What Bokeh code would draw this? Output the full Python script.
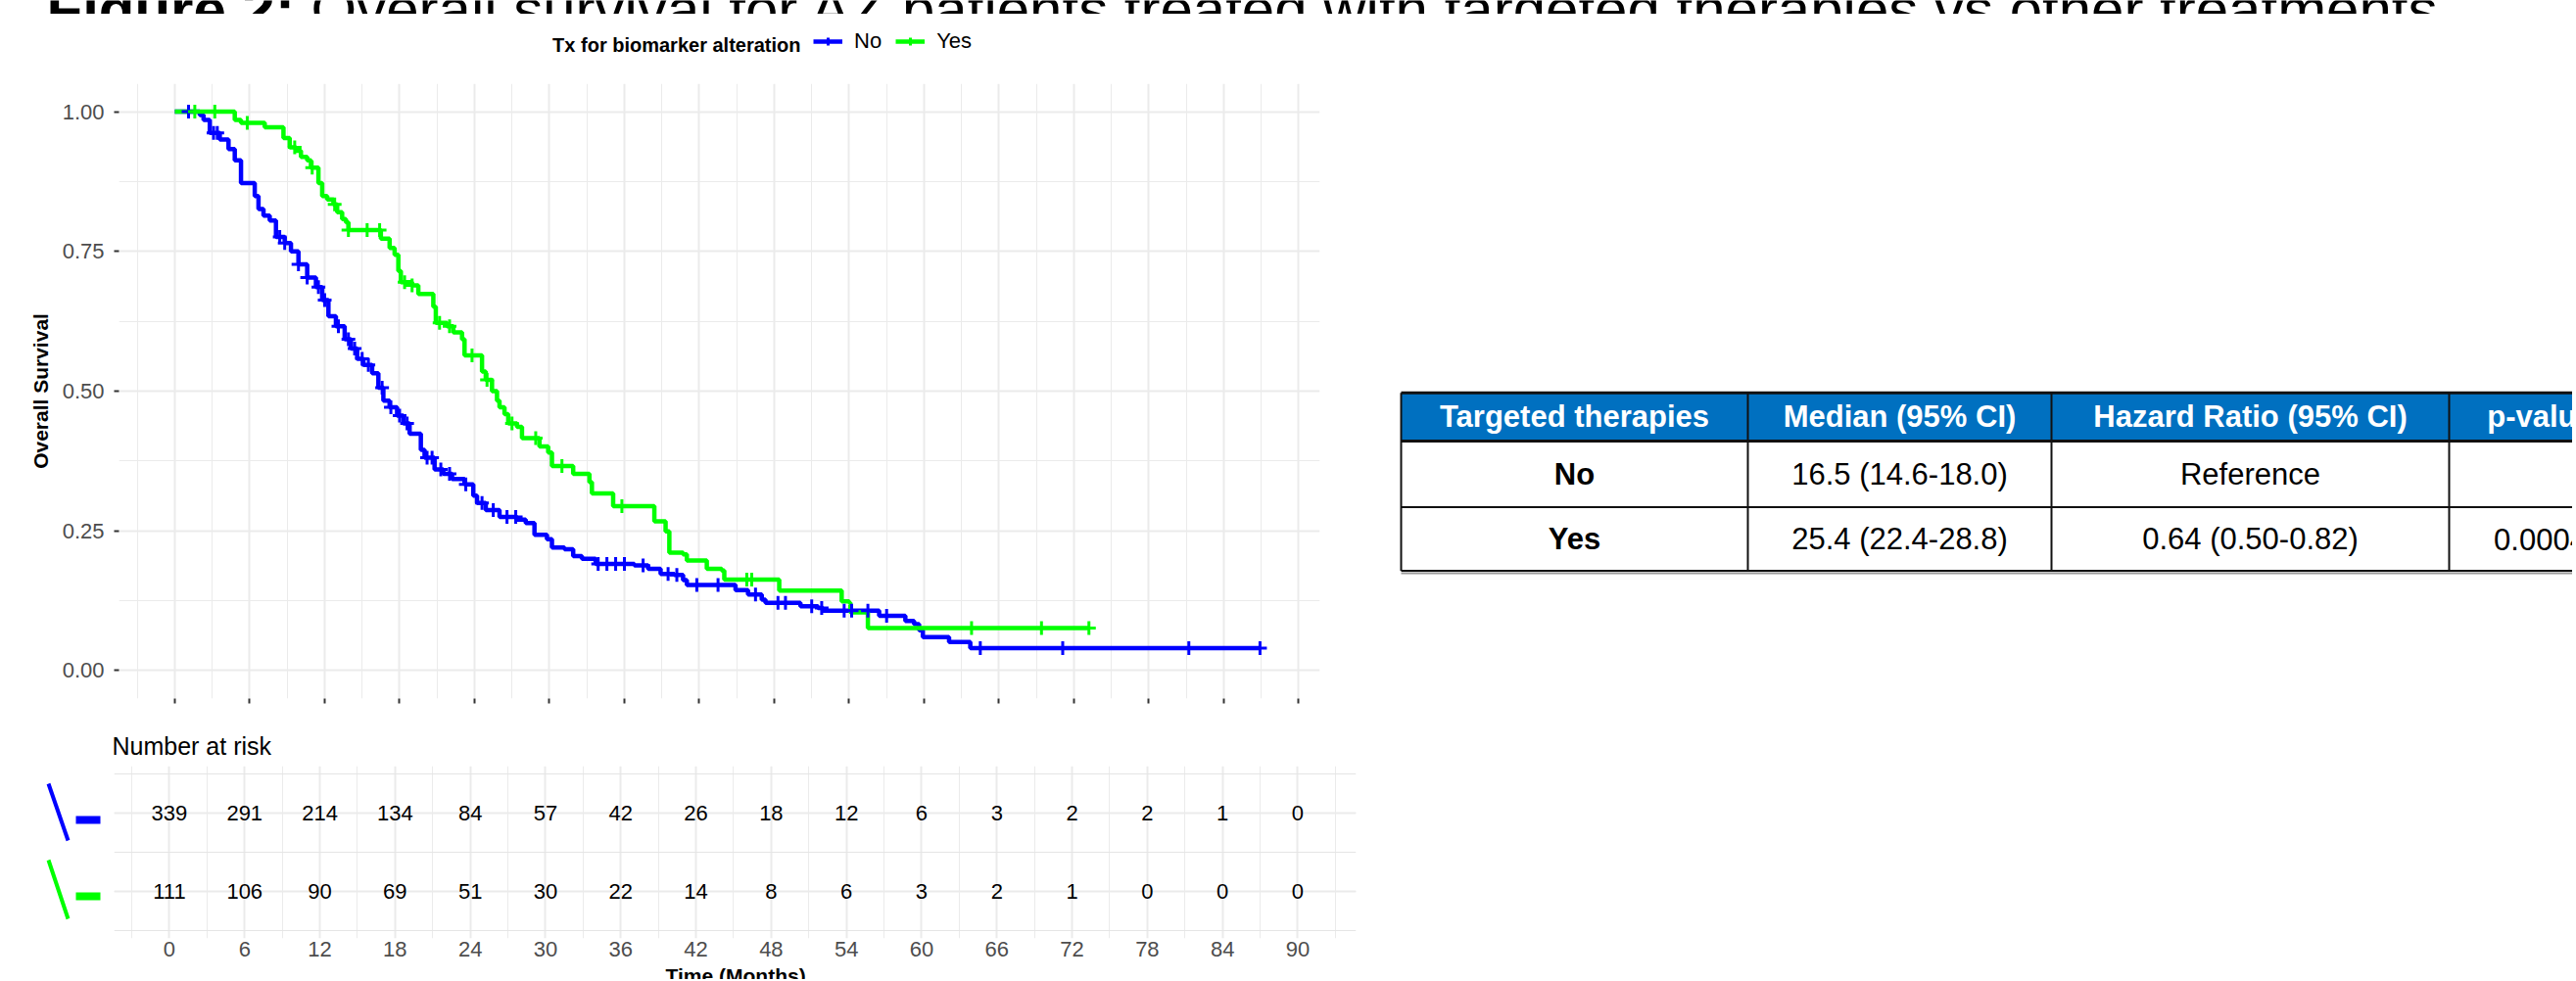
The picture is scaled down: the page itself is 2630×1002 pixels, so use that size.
import numpy as np
from bokeh.plotting import figure
from bokeh.models import Range1d, FixedTicker, Legend, LegendItem, Grid
from bokeh.layouts import column, row
from bokeh.embed import file_html
from bokeh.resources import INLINE
from bokeh.core.properties import value

FONT = "Liberation Sans"
BLUE = "#0000FF"
GREEN = "#00FF00"
GRID_C = "#EBEBEB"
TICK_GREY = "#4D4D4D"

# ---------------- data ----------------
title_bold = "Figure 2:"
title_rest = "Overall survival for AZ patients treated with targeted therapies vs other treatments"
legend_title = "Tx for biomarker alteration"
group_labels = ["No", "Yes"]

# Kaplan-Meier steps, group "No"
no_times = [0, 2.0, 2.3, 2.8, 3.6, 4.3, 4.8, 5.3, 6.4, 6.7, 7.1, 7.6, 8.1, 8.8, 9.3, 9.9,
            10.6, 11.3, 11.8, 12.3, 12.9, 13.6, 14.1, 14.6, 15.1, 15.8, 16.3, 16.7, 17.2,
            17.8, 18.3, 18.8, 19.7, 20.0, 20.8, 21.5, 22.2, 23.2, 23.9, 24.2, 24.9, 26.0,
            27.4, 28.1, 28.8, 29.8, 30.2, 31.2, 31.9, 32.6, 33.7, 36.8, 37.9, 38.9, 40.0,
            40.7, 41.0, 44.9, 45.9, 47.0, 47.3, 50.1, 51.5, 51.9, 56.4, 58.5, 59.2, 59.6,
            59.9, 62.0, 63.7]
no_surv = [1.0, 0.994, 0.985, 0.962, 0.95, 0.933, 0.913, 0.872, 0.849, 0.826, 0.814, 0.805,
           0.776, 0.765, 0.75, 0.727, 0.703, 0.686, 0.663, 0.634, 0.616, 0.593, 0.576, 0.558,
           0.547, 0.532, 0.506, 0.483, 0.471, 0.456, 0.442, 0.424, 0.395, 0.381, 0.360, 0.352,
           0.343, 0.333, 0.313, 0.300, 0.287, 0.275, 0.270, 0.264, 0.243, 0.235, 0.220, 0.217,
           0.205, 0.200, 0.191, 0.188, 0.182, 0.173, 0.171, 0.162, 0.153, 0.144, 0.136, 0.127,
           0.121, 0.115, 0.112, 0.107, 0.098, 0.089, 0.083, 0.072, 0.060, 0.051, 0.040]
no_last = 86.9
no_censor = [1.1, 3.1, 3.4, 8.4, 8.8, 9.9, 10.6, 11.5, 12.0, 13.1, 13.9, 14.4, 15.0, 15.5,
             16.6, 17.3, 18.0, 18.6, 20.2, 20.6, 21.3, 22.0, 23.3, 24.6, 25.5, 26.6, 27.3,
             33.9, 34.6, 35.3, 36.0, 37.5, 39.5, 40.2, 41.8, 43.5, 46.5, 48.3, 48.9, 51.0,
             51.8, 53.6, 54.2, 55.5, 57.0, 64.5, 71.1, 81.2, 86.9]

# Kaplan-Meier steps, group "Yes"
yes_times = [0, 4.8, 5.3, 7.2, 8.7, 9.2, 9.7, 10.1, 10.6, 10.9, 11.5, 11.8, 12.2, 12.7, 13.0,
             13.4, 13.7, 13.9, 16.5, 17.2, 17.6, 17.9, 18.1, 19.0, 19.5, 20.7, 20.9, 21.8,
             22.3, 23.0, 23.2, 24.6, 24.9, 25.4, 25.8, 26.0, 26.4, 26.7, 27.4, 27.8, 29.2,
             29.9, 30.2, 31.9, 33.2, 33.4, 35.1, 38.4, 39.3, 39.6, 40.7, 41.0, 42.6, 43.8,
             44.0, 48.4, 53.4, 54.0, 54.1, 55.5]
yes_surv = [1.0, 0.985, 0.98, 0.972, 0.953, 0.936, 0.930, 0.919, 0.913, 0.900, 0.872, 0.849,
            0.843, 0.834, 0.820, 0.808, 0.802, 0.788, 0.773, 0.756, 0.744, 0.715, 0.695, 0.689,
            0.674, 0.651, 0.622, 0.616, 0.605, 0.593, 0.564, 0.535, 0.520, 0.500, 0.483, 0.471,
            0.459, 0.442, 0.436, 0.416, 0.401, 0.390, 0.366, 0.352, 0.337, 0.317, 0.294, 0.267,
            0.249, 0.211, 0.208, 0.197, 0.182, 0.179, 0.163, 0.143, 0.124, 0.121, 0.104, 0.076]
yes_last = 73.2
yes_censor = [1.6, 3.2, 5.8, 9.6, 11.0, 12.8, 13.9, 15.4, 16.4, 18.4, 19.0, 21.2, 22.0, 23.8,
              25.0, 27.0, 28.9, 31.0, 35.8, 45.8, 46.2, 63.8, 69.4, 73.2]

# Axes / risk table
y_ticks = [0.0, 0.25, 0.5, 0.75, 1.0]
y_tick_labels = ["0.00", "0.25", "0.50", "0.75", "1.00"]
risk_times = [0, 6, 12, 18, 24, 30, 36, 42, 48, 54, 60, 66, 72, 78, 84, 90]
risk_no = [339, 291, 214, 134, 84, 57, 42, 26, 18, 12, 6, 3, 2, 2, 1, 0]
risk_yes = [111, 106, 90, 69, 51, 30, 22, 14, 8, 6, 3, 2, 1, 0, 0, 0]
x_axis_title = "Time (Months)"
y_axis_title = "Overall Survival"
risk_title = "Number at risk"

# Summary table
table_header = ["Targeted therapies", "Median (95% CI)", "Hazard Ratio (95% CI)", "p-value"]
table_rows = [["No", "16.5 (14.6-18.0)", "Reference", ""],
              ["Yes", "25.4 (22.4-28.8)", "0.64 (0.50-0.82)", "0.0004"]]


def step_xy(times, surv, last):
    return list(times) + [last], list(surv) + [surv[-1]]


def surv_at(times, surv, t):
    idx = np.searchsorted(np.array(times), np.array(t), side="right") - 1
    return list(np.array(surv)[idx])


def base_fig(**kw):
    f = figure(output_backend="svg", toolbar_location=None, **kw)
    try:
        f.frame_align = False
    except Exception:
        pass
    return f


def strip(width, height, x0, x1, y_top, y_bot):
    f = base_fig(width=width, height=height, x_range=Range1d(x0, x1),
                 y_range=Range1d(y_bot, y_top), min_border=0,
                 x_axis_location=None, y_axis_location=None)
    f.grid.visible = False
    f.outline_line_color = None
    return f


LEFT_W = 1408
TOTAL_W = 2626

# ---------------- title strip (top of the title lies outside the image) ----------------
tf = strip(TOTAL_W, 14, 0, TOTAL_W, 0, 14)
tf.text(x=[47], y=[9], text=[title_bold], text_font=value(FONT), text_font_style="bold",
        text_font_size="60px", text_baseline="alphabetic", text_align="left", text_color="black")
tf.text(x=[317], y=[9], text=[title_rest], text_font=value(FONT), text_font_size="60px",
        text_baseline="alphabetic", text_align="left", text_color="black")

# ---------------- legend strip ----------------
lf = strip(LEFT_W, 71, 0, LEFT_W, 14, 85)
lf.text(x=[817], y=[45], text=[legend_title], text_font=value(FONT), text_font_style="bold",
        text_font_size="20px", text_align="right", text_baseline="middle", text_color="black")
OFF = [-1000, -999]
k_no = lf.line(OFF, [-1000, -1000], line_color=BLUE, line_width=4.5)
k_no_c = lf.scatter(OFF[:1], [-1000], marker="cross", size=14, line_color=BLUE, line_width=3)
k_yes = lf.line(OFF, [-1000, -1000], line_color=GREEN, line_width=4.5)
k_yes_c = lf.scatter(OFF[:1], [-1000], marker="cross", size=14, line_color=GREEN, line_width=3)
legend = Legend(items=[LegendItem(label=group_labels[0], renderers=[k_no, k_no_c]),
                       LegendItem(label=group_labels[1], renderers=[k_yes, k_yes_c])],
                orientation="horizontal", location=(830, 30), padding=0, margin=0,
                spacing=14, glyph_width=30, glyph_height=20, label_height=20, label_standoff=12,
                border_line_color=None, background_fill_alpha=0,
                label_text_font=FONT, label_text_font_size="22px", label_text_color="black",
                label_text_baseline="middle")
lf.add_layout(legend, "center")

# ---------------- KM plot ----------------
km = base_fig(width=LEFT_W, height=660, x_range=Range1d(-4.47, 91.69), y_range=Range1d(-0.05, 1.05),
              min_border_left=121, min_border_right=LEFT_W - 1347, min_border_top=0,
              min_border_bottom=32)
km.outline_line_color = None

minor_x = [-3 + 6 * i for i in range(17)]
km.xaxis.ticker = FixedTicker(ticks=risk_times, minor_ticks=minor_x)
km.yaxis.ticker = FixedTicker(ticks=y_ticks, minor_ticks=[0.125, 0.375, 0.625, 0.875])
km.xaxis.major_label_overrides = {t: "" for t in risk_times}
km.yaxis.major_label_overrides = {t: l for t, l in zip(y_ticks, y_tick_labels)}

for ax in (km.xaxis[0], km.yaxis[0]):
    ax.axis_line_color = None
    ax.major_tick_in = 0
    ax.major_tick_out = 5
    ax.minor_tick_in = 0
    ax.minor_tick_out = 0
    ax.major_tick_line_color = "#333333"
    ax.major_tick_line_width = 2
    ax.major_label_text_font = FONT
    ax.major_label_text_color = TICK_GREY
km.yaxis.major_label_text_font_size = "22px"
km.xaxis.major_label_text_font_size = "1px"
km.xaxis.major_label_standoff = 0
km.yaxis.major_label_standoff = 10
km.yaxis.axis_label = y_axis_title
km.yaxis.axis_label_text_font = FONT
km.yaxis.axis_label_text_font_style = "bold"
km.yaxis.axis_label_text_font_size = "21px"
km.yaxis.axis_label_text_color = "black"
km.yaxis.axis_label_standoff = 8

for g in (km.xgrid[0], km.ygrid[0]):
    g.grid_line_color = GRID_C
    g.grid_line_width = 2
    g.minor_grid_line_color = GRID_C
    g.minor_grid_line_width = 1

nx, ny = step_xy(no_times, no_surv, no_last)
yx, yy = step_xy(yes_times, yes_surv, yes_last)
km.step(nx, ny, mode="after", line_color=BLUE, line_width=4.5)
km.step(yx, yy, mode="after", line_color=GREEN, line_width=4.5)
km.scatter(no_censor, surv_at(no_times, no_surv, no_censor), marker="cross", size=14,
           line_color=BLUE, line_width=3)
km.scatter(yes_censor, surv_at(yes_times, yes_surv, yes_censor), marker="cross", size=14,
           line_color=GREEN, line_width=3)

# ---------------- risk table ----------------
rt = strip(LEFT_W, 37, 0, LEFT_W, 745, 782)
rt.text(x=[114], y=[761], text=[risk_title], text_font=value(FONT), text_font_size="25px",
        text_align="left", text_baseline="middle", text_color="black")

RISK_Y = Range1d(0.4, 2.6)
sym = base_fig(width=116, height=205, x_range=Range1d(0, 116), y_range=RISK_Y,
               min_border_left=0, min_border_right=0, min_border_top=0, min_border_bottom=29,
               x_axis_location=None, y_axis_location=None)
sym.grid.visible = False
sym.outline_line_color = None
sym.segment(x0=[49, 49], y0=[2.375, 1.4], x1=[69, 69], y1=[1.65, 0.65],
            line_color=[BLUE, GREEN], line_width=4)
sym.rect(x=[89.5, 89.5], y=[1.9125, 0.9375], width=25, height=0.1,
         fill_color=[BLUE, GREEN], line_color=None)

risk = base_fig(width=LEFT_W - 116, height=205, x_range=Range1d(-4.41, 94.65), y_range=RISK_Y,
                min_border_left=0, min_border_right=LEFT_W - 1384, min_border_top=0,
                min_border_bottom=29, y_axis_location=None)
risk.outline_line_color = None
risk.xaxis.ticker = FixedTicker(ticks=risk_times, minor_ticks=minor_x)
rx = risk.xaxis[0]
rx.axis_line_color = None
rx.major_tick_in = 0
rx.major_tick_out = 0
rx.minor_tick_in = 0
rx.minor_tick_out = 0
rx.major_label_standoff = 3
rx.major_label_text_font = FONT
rx.major_label_text_font_size = "22px"
rx.major_label_text_color = TICK_GREY
risk.xgrid[0].grid_line_color = GRID_C
risk.xgrid[0].grid_line_width = 2
risk.xgrid[0].minor_grid_line_color = GRID_C
risk.xgrid[0].minor_grid_line_width = 1
risk.add_layout(Grid(dimension=1, ticker=FixedTicker(ticks=[1, 2]), grid_line_color=GRID_C,
                     grid_line_width=2))

risk.text(x=risk_times, y=[2] * len(risk_times), text=[str(v) for v in risk_no],
          text_font=value(FONT), text_font_size="22px", text_align="center",
          text_baseline="middle", text_color="black")
risk.text(x=risk_times, y=[1] * len(risk_times), text=[str(v) for v in risk_yes],
          text_font=value(FONT), text_font_size="22px", text_align="center",
          text_baseline="middle", text_color="black")

# bottom strip with the (cut-off) x-axis title
bt = strip(LEFT_W, 13, 0, LEFT_W, 987, 1000)
bt.text(x=[175.5 + 45 * 12.78], y=[996], text=[x_axis_title], text_font=value(FONT),
        text_font_style="bold", text_font_size="21px", text_align="center",
        text_baseline="middle", text_color="black")

# ---------------- summary table ----------------
tbl = strip(TOTAL_W - LEFT_W, 986, LEFT_W, TOTAL_W, 14, 1000)
col_edges = [1430, 1784, 2094, 2500, 2686]
row_edges = [400.7, 450, 517.5, 582.5]
col_mid = [(a + b) / 2 for a, b in zip(col_edges[:-1], col_edges[1:])]
row_mid = [(a + b) / 2 for a, b in zip(row_edges[:-1], row_edges[1:])]

tbl.quad(left=[col_edges[0]], right=[col_edges[-1]], top=[row_edges[0]], bottom=[row_edges[1]],
         fill_color="#0070C0", line_color=None)
tbl.segment(x0=[col_edges[0]] * 4, x1=[col_edges[-1]] * 4, y0=row_edges, y1=row_edges,
            line_color="#111111", line_width=[3, 3, 2, 2])
tbl.segment(x0=[col_edges[0]], x1=[col_edges[-1]], y0=[585], y1=[585],
            line_color="#9A9A9A", line_width=2)
tbl.segment(x0=col_edges[:-1], x1=col_edges[:-1], y0=[row_edges[0]] * 4, y1=[row_edges[-1]] * 4,
            line_color="#111111", line_width=2)

tbl.text(x=col_mid, y=[row_mid[0]] * 4, text=table_header, text_font=value(FONT),
         text_font_style="bold", text_font_size="31px", text_align="center",
         text_baseline="middle", text_color="white")
for i, r in enumerate(table_rows):
    tbl.text(x=[col_mid[0]], y=[row_mid[i + 1]], text=[r[0]], text_font=value(FONT),
             text_font_style="bold", text_font_size="31px", text_align="center",
             text_baseline="middle", text_color="black")
    tbl.text(x=col_mid[1:], y=[row_mid[i + 1]] * 3, text=r[1:], text_font=value(FONT),
             text_font_size="31px", text_align="center", text_baseline="middle",
             text_color="black")

left = column(lf, km, rt, row(sym, risk), bt)
layout = column(tf, row(left, tbl))

open("out.html", "w").write(file_html(layout, INLINE))
